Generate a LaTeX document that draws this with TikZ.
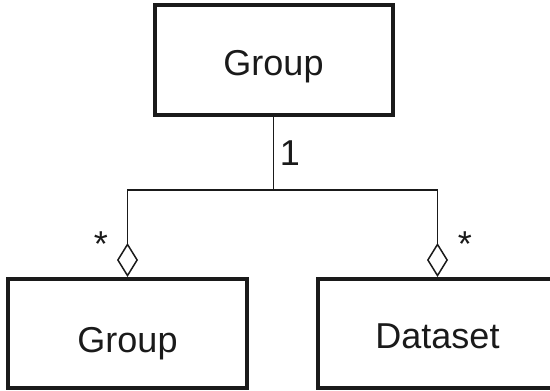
\documentclass[tikz,border=0pt]{standalone}
\usepackage{fontspec}
\setmainfont{Liberation Sans}
\usetikzlibrary{arrows.meta}
\definecolor{ink}{HTML}{1A1A1A}
\begin{document}
\begin{tikzpicture}[x=1pt,y=-1pt,
  classbox/.style={draw=ink, text=ink, line width=4pt, rectangle, inner sep=0pt,
    minimum height=110pt, text depth=0pt, font=\fontsize{36}{43}\selectfont},
  conn/.style={draw=ink, line width=1.5pt},
  agg/.style={conn, -{Diamond[open,length=34pt,width=21pt,line join=miter]}},
  mult/.style={text=ink, font=\fontsize{36}{43}\selectfont, inner sep=0pt, anchor=base}]
\useasboundingbox (0,0) rectangle (550,391);
\node[classbox, minimum width=238pt, text height=30pt] (top) at (273.5,60) {Group};
\node[classbox, minimum width=239pt, minimum height=109pt, text height=37pt] (g2) at (127.5,333.5) {Group};
\node[classbox, minimum width=239pt, minimum height=109pt, text height=29pt] (ds) at (437.5,333.5) {Dataset};
\draw[agg] (top.south) -- ++(0,73) -| (g2.north);
\draw[agg] (top.south) -- ++(0,73) -| (ds.north);
\node[mult] (one) at (290,165) {1};
\node[mult] (s1) at (101,256) {*};
\node[mult] (s2) at (465,256) {*};
\end{tikzpicture}
\end{document}
